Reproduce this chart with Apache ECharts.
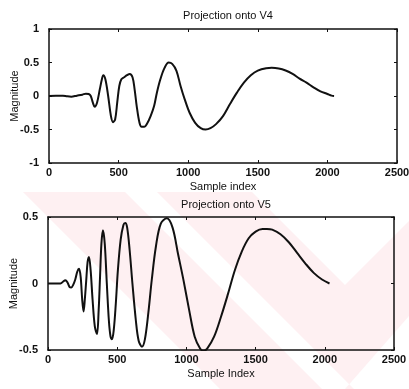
<!DOCTYPE html>
<html>
<head>
<meta charset="utf-8">
<script src="https://cdn.jsdelivr.net/npm/echarts@6/dist/echarts.min.js"></script>
<style>
html,body{margin:0;padding:0;background:#fff;}
#chart{width:409px;height:389px;}
</style>
</head>
<body>
<div id="chart"></div>
<script>
// ---- data ----
var titles = ['Projection onto V4', 'Projection onto V5'];
var xLabels = ['Sample index', 'Sample Index'];
var yLabel = 'Magnitude';
var xTicks = [0, 500, 1000, 1500, 2000, 2500];
var yTicksTop = [-1, -0.5, 0, 0.5, 1];
var yTicksBottom = [-0.5, 0, 0.5];

var v4x = [0,50,100,130,160,200,240,265,285,300,315,328,345,365,380,390,405,425,445,460,475,490,505,520,540,560,580,600,615,630,650,665,685,705,730,755,775,800,830,860,885,915,945,975,1010,1050,1090,1125,1160,1200,1250,1300,1350,1400,1450,1500,1560,1600,1650,1700,1750,1800,1850,1900,1950,2000,2030,2048];
var v4y = [0,0.005,0.005,-0.005,-0.01,0.005,0.02,0.035,0.03,0.0,-0.1,-0.16,-0.1,0.1,0.25,0.31,0.25,0.0,-0.3,-0.39,-0.35,-0.1,0.15,0.25,0.28,0.31,0.33,0.28,0.1,-0.15,-0.4,-0.46,-0.46,-0.41,-0.3,-0.15,0.05,0.25,0.42,0.5,0.48,0.38,0.15,-0.05,-0.25,-0.4,-0.48,-0.5,-0.48,-0.42,-0.3,-0.12,0.05,0.2,0.31,0.38,0.415,0.42,0.41,0.38,0.33,0.26,0.2,0.13,0.07,0.03,0.005,0];

var v5x = [0,50,90,110,125,140,155,168,182,197,212,224,236,247,257,266,276,286,296,308,322,338,354,366,376,386,397,410,425,440,452,462,475,490,505,525,545,558,572,590,610,635,655,679,700,725,750,780,815,859,900,940,980,1020,1060,1100,1124,1150,1200,1250,1300,1350,1400,1450,1500,1550,1582,1620,1680,1740,1800,1860,1920,1980,2034];
var v5y = [0,0,0,0.015,0.025,0.01,-0.025,-0.03,-0.01,0.03,0.09,0.11,0.05,-0.12,-0.21,-0.12,0.02,0.16,0.2,0.1,-0.12,-0.32,-0.38,-0.2,0.05,0.3,0.40,0.3,0.0,-0.28,-0.4,-0.42,-0.35,-0.15,0.1,0.33,0.44,0.455,0.42,0.25,0.0,-0.28,-0.43,-0.475,-0.42,-0.22,0.03,0.28,0.45,0.49,0.42,0.22,0.02,-0.2,-0.4,-0.49,-0.505,-0.49,-0.4,-0.25,-0.08,0.1,0.24,0.34,0.39,0.41,0.41,0.405,0.37,0.31,0.23,0.15,0.08,0.03,0];

function pairs(xs, ys){ var out=[]; for(var i=0;i<xs.length;i++) out.push([xs[i], ys[i]]); return out; }

var FONT = 'Liberation Sans, Arial, sans-serif';
var INK = '#111';

var grids = [
  {left:49, top:29, width:348, height:134, containLabel:false, outerBoundsMode:'none'},
  {left:48, top:217, width:346, height:133, containLabel:false, outerBoundsMode:'none'}
];

function fmt(v){ return String(v); }

function mkX(gi, name, pos, show){
  return {
    type:'value', gridIndex:gi, min:xTicks[0], max:xTicks[xTicks.length-1], interval:500, position:pos,
    name: show ? name : '', nameLocation:'middle', nameGap:18, nameMoveOverlap:false,
    nameTextStyle:{color:INK, fontFamily:FONT, fontSize:11},
    axisLine:{show:true, onZero:false, lineStyle:{color:INK, width:1.5}},
    axisTick:{show:true, inside:true, length:3, lineStyle:{color:INK}},
    axisLabel:{show:show, color:INK, fontFamily:FONT, fontSize:11, fontWeight:'bold', margin:4, formatter:fmt},
    splitLine:{show:false}
  };
}
function mkY(gi, mn, mx, pos, show){
  return {
    type:'value', gridIndex:gi, min:mn, max:mx, interval:0.5, position:pos,
    name: show ? yLabel : '', nameLocation:'middle', nameGap:29, nameRotate:90, nameMoveOverlap:false,
    nameTextStyle:{color:INK, fontFamily:FONT, fontSize:11},
    axisLine:{show:true, onZero:false, lineStyle:{color:INK, width:1.5}},
    axisTick:{show:true, inside:true, length:3, lineStyle:{color:INK}},
    axisLabel:{show:show, color:INK, fontFamily:FONT, fontSize:11, fontWeight:'bold', margin:10, formatter:fmt},
    splitLine:{show:false}
  };
}

var pink = '#fef0f2';
var option = {
  backgroundColor:'#fff',
  animation:false,
  graphic:[
    {type:'polygon', z:-100, silent:true, shape:{points:[[23,192],[125,192],[322,389],[220,389]]}, style:{fill:pink}},
    {type:'polygon', z:-100, silent:true, shape:{points:[[157,192],[252,192],[345,285],[409,221],[409,316],[345,389],[354,389],[345,380]]}, style:{fill:pink}}
  ],
  title:[
    {text:titles[0], left:223, top:5, textAlign:'center', textStyle:{color:INK, fontFamily:FONT, fontSize:11, fontWeight:'normal'}},
    {text:titles[1], left:221, top:194, textAlign:'center', textStyle:{color:INK, fontFamily:FONT, fontSize:11, fontWeight:'normal'}}
  ],
  grid:grids,
  xAxis:[ mkX(0, xLabels[0], 'bottom', true), mkX(0, '', 'top', false),
          mkX(1, xLabels[1], 'bottom', true), mkX(1, '', 'top', false) ],
  yAxis:[ mkY(0, yTicksTop[0], yTicksTop[yTicksTop.length-1], 'left', true), mkY(0, yTicksTop[0], yTicksTop[yTicksTop.length-1], 'right', false),
          mkY(1, yTicksBottom[0], yTicksBottom[yTicksBottom.length-1], 'left', true), mkY(1, yTicksBottom[0], yTicksBottom[yTicksBottom.length-1], 'right', false) ],
  series:[
    {type:'line', xAxisIndex:0, yAxisIndex:0, data:pairs(v4x, v4y), smooth:0.35, showSymbol:false, lineStyle:{color:INK, width:2}},
    {type:'line', xAxisIndex:2, yAxisIndex:2, data:pairs(v5x, v5y), smooth:0.35, showSymbol:false, lineStyle:{color:INK, width:2}}
  ]
};
var chart = echarts.init(document.getElementById('chart'), null, {renderer:'canvas'});
chart.setOption(option);
</script>
</body>
</html>
